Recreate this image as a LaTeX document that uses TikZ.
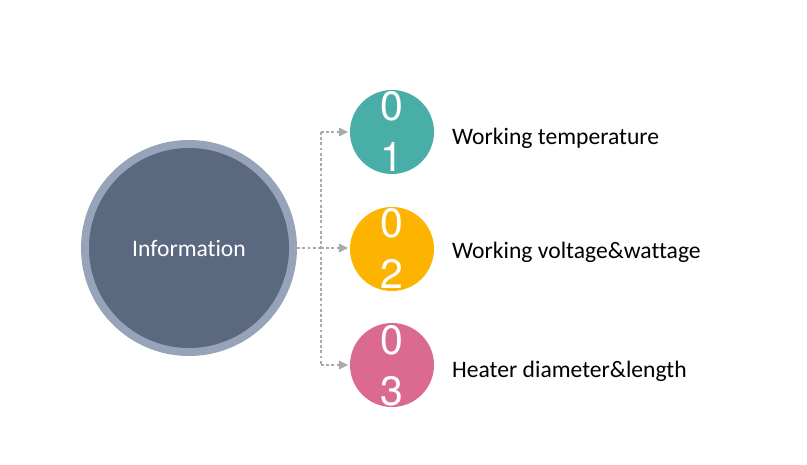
\documentclass[tikz,border=0pt]{standalone}
\usepackage{fontspec}
\setmainfont{Carlito}[Ligatures={NoCommon}]
\newfontfamily\digitfont{TeX Gyre Heros}
\usetikzlibrary{arrows.meta}
\definecolor{ringc}{RGB}{151,163,184}
\definecolor{innerc}{RGB}{90,104,128}
\definecolor{tealc}{RGB}{74,174,168}
\definecolor{yellowc}{RGB}{252,180,0}
\definecolor{pinkc}{RGB}{218,106,144}
\definecolor{linec}{RGB}{170,170,170}
\begin{document}
\begin{tikzpicture}[x=1pt,y=-1pt,
  numcirc/.style={circle,minimum size=84pt,inner sep=0pt},
  digit/.style={text=white,font=\digitfont\fontsize{41}{41}\selectfont,inner sep=0pt,anchor=center},
  label/.style={anchor=west,font=\fontsize{23.6}{28}\selectfont,text=black,inner sep=0pt},
  conn/.style={draw=linec,line width=2.8pt,dash pattern=on 2.8pt off 2.4pt},
  tip/.style={-{Triangle[length=9pt,width=9pt]},linec}]
\useasboundingbox (0,0) rectangle (807,465);
\fill[white] (0,0) rectangle (807,465);
% big circle
\node[circle,fill=ringc,minimum size=216pt,inner sep=0pt] (outer) at (189,248) {};
\node[circle,fill=innerc,minimum size=200pt,inner sep=0pt,text=white,font=\fontsize{23.6}{28}\selectfont] (info) at (189,248) {Information};
% small circles
\node[numcirc,fill=tealc] (c1) at (392,132) {};
\node[numcirc,fill=yellowc] (c2) at (392,249) {};
\node[numcirc,fill=pinkc] (c3) at (392,365) {};
% digits
\node[digit] (d1a) at (392,106) {0};
\node[digit] (d1b) at (392,157) {1};
\node[digit] (d2a) at (392,223) {0};
\node[digit] (d2b) at (392,274) {2};
\node[digit] (d3a) at (392,340) {0};
\node[digit] (d3b) at (392,391) {3};
% labels
\node[label] (l1) at (452,138) {Working temperature};
\node[label] (l2) at (452,252) {Working voltage\&wattage};
\node[label] (l3) at (452,371) {Heater diameter\&length};
% connectors
\coordinate (j0) at (321,248);
\coordinate (j1) at (321,132);
\coordinate (j3) at (321,365);
\draw[conn] (outer.east) -- (j0);
\draw[conn] (j1) -- (j3);
\draw[conn] (j1) -- ([xshift=-9pt]c1.west |- j1);
\draw[conn] (j0) -- ([xshift=-9pt]c2.west |- j0);
\draw[conn] (j3) -- ([xshift=-9pt]c3.west |- j3);
\draw[tip] ([xshift=-10pt]c1.west |- j1) -- ([xshift=-2pt]c1.west |- j1);
\draw[tip] ([xshift=-10pt]c2.west |- j0) -- ([xshift=-2pt]c2.west |- j0);
\draw[tip] ([xshift=-10pt]c3.west |- j3) -- ([xshift=-2pt]c3.west |- j3);
\end{tikzpicture}
\end{document}
